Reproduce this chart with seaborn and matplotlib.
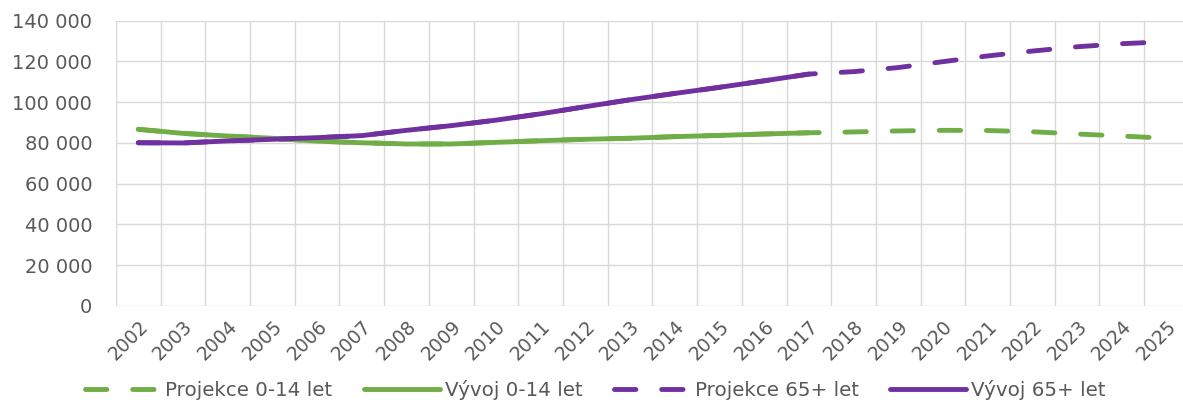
import matplotlib
matplotlib.use("Agg")
import matplotlib.pyplot as plt
import seaborn as sns
import numpy as np
from matplotlib.ticker import FuncFormatter, MultipleLocator
from matplotlib.lines import Line2D

# years on the x axis
years = list(range(2002, 2026))
years_hist = list(range(2002, 2018))

# projection (dashed) series, 2002-2025
proj_0_14 = [86700, 84700, 83400, 82300, 80900, 80100, 79500, 79500, 80300, 81100,
             81800, 82300, 83100, 83700, 84400, 85000, 85400, 85900, 86200, 86100,
             85500, 84400, 83400, 82300]
proj_65 = [80100, 80000, 81000, 81800, 82600, 83600, 86200, 88500, 91200, 94300,
           97800, 101200, 104300, 107300, 110500, 113800, 115000, 117000, 119900, 122700,
           125100, 127200, 128700, 129700]

# actual development (solid) series, 2002-2017
hist_0_14 = [86700, 84700, 83400, 82300, 80900, 80100, 79500, 79500, 80300, 81100,
             81800, 82300, 83100, 83700, 84400, 85000]
hist_65 = [80100, 80000, 81000, 81800, 82600, 83600, 86200, 88500, 91200, 94300,
           97800, 101200, 104300, 107300, 110500, 113800]

labels = ["Projekce 0-14 let", "Vývoj 0-14 let", "Projekce 65+ let", "Vývoj 65+ let"]

green = "#70AD47"
purple = "#7030A0"
gray = "#595959"

sns.set_style("white")
plt.rcParams['font.family'] = ['DejaVu Sans']

fig = plt.figure(figsize=(11.83, 4.04), dpi=100)
ax = fig.add_axes([0.098, 0.2426, 0.907, 0.7062])

lw = 3.5
dash = (4.4, 5.3)

sns.lineplot(x=years, y=proj_0_14, ax=ax, color=green, linewidth=lw)
sns.lineplot(x=years, y=proj_65, ax=ax, color=purple, linewidth=lw)
for line in ax.get_lines():
    line.set_dashes(dash)
    line.set_dash_capstyle("round")
sns.lineplot(x=years_hist, y=hist_0_14, ax=ax, color=green, linewidth=lw)
sns.lineplot(x=years_hist, y=hist_65, ax=ax, color=purple, linewidth=lw)

# axes styling (Excel like)
ax.set_xlim(2001.5, 2025.5)
ax.set_ylim(0, 140000)
ax.yaxis.set_major_locator(MultipleLocator(20000))
ax.yaxis.set_major_formatter(FuncFormatter(lambda v, pos: f"{int(v):,}".replace(",", " ")))
ax.set_xticks(years)
ax.set_xticks(np.arange(2001.5, 2026, 1), minor=True)
ax.set_xticklabels([str(y) for y in years], rotation=45, ha="right", rotation_mode="anchor")
ax.grid(False)
ax.grid(True, which="minor", axis="x", color="#D9D9D9", linewidth=1)
ax.grid(True, which="major", axis="y", color="#D9D9D9", linewidth=1)
ax.tick_params(axis="both", which="both", length=0, colors=gray)
ax.tick_params(axis="x", pad=8, labelsize=13.5)
ax.tick_params(axis="y", pad=17, labelsize=14)
for s in ax.spines.values():
    s.set_visible(False)

handles = [
    Line2D([], [], color=green, linewidth=lw, dashes=dash, dash_capstyle="round"),
    Line2D([], [], color=green, linewidth=lw),
    Line2D([], [], color=purple, linewidth=lw, dashes=dash, dash_capstyle="round"),
    Line2D([], [], color=purple, linewidth=lw),
]
leg = fig.legend(handles, labels, loc="center", bbox_to_anchor=(0.503, 0.035), ncol=4,
                 frameon=False, fontsize=14.3, handlelength=3.8, columnspacing=1.6,
                 handletextpad=0.25)
for t in leg.get_texts():
    t.set_color(gray)

plt.savefig("out.png", dpi=100)
plt.close()
